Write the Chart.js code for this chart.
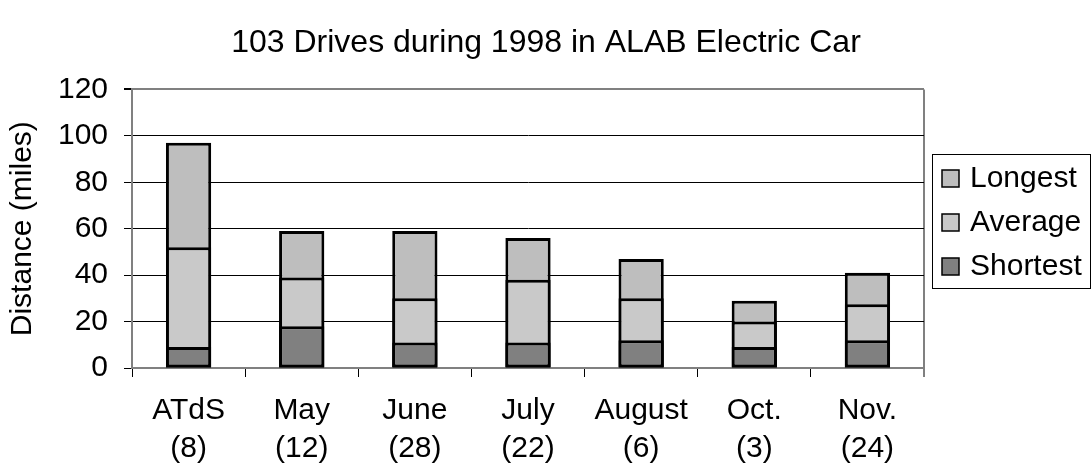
<!DOCTYPE html>
<html lang="en">
<head>
  <meta charset="UTF-8">
  <meta name="viewport" content="width=device-width, initial-scale=1.0">
  <title>103 Drives during 1998 in ALAB Electric Car</title>
  <script src="https://cdn.jsdelivr.net/npm/chart.js"></script>
  <style>
    html, body { margin: 0; padding: 0; background: #fff; }
    #drivesChart { display: block; }
  </style>
</head>
<body>
  <canvas id="drivesChart" width="1092" height="470"></canvas>
  <script>
    // months (number of drives in brackets)
    const months = [
      ["ATdS", "(8)"],
      ["May", "(12)"],
      ["June", "(28)"],
      ["July", "(22)"],
      ["August", "(6)"],
      ["Oct.", "(3)"],
      ["Nov.", "(24)"]
    ];

    // miles per drive
    const longest  = [97, 59, 59, 56, 47, 29, 41];
    const average  = [52, 39, 30, 38, 30, 20, 27.5];
    const shortest = [9, 18, 11, 11, 12, 9, 12];

    const yMin = 0;
    const yMax = 120;
    const yStep = 20;

    const fontFamily = "'Liberation Sans', Arial, Helvetica, sans-serif";
    Chart.defaults.font.family = fontFamily;
    Chart.defaults.color = "#000";

    // Excel style legend with a frame round it, right of the plot
    const boxLegend = {
      id: "boxLegend",
      afterDraw(chart) {
        const ctx = chart.ctx;
        const left = chart.chartArea.right + 8;
        const top = 154;
        const rowHeight = 44;

        ctx.save();
        ctx.strokeStyle = "#000";
        ctx.lineWidth = 1;
        ctx.strokeRect(left + 0.5, top + 0.5, 158, 134);

        ctx.font = "30px " + fontFamily;
        ctx.textBaseline = "middle";
        ctx.textAlign = "left";
        chart.data.datasets.forEach((ds, i) => {
          const cy = top + 24 + i * rowHeight;
          ctx.fillStyle = ds.backgroundColor;
          ctx.fillRect(left + 10, cy - 8, 17, 17);
          ctx.lineWidth = 1.5;
          ctx.strokeRect(left + 10, cy - 8, 17, 17);
          ctx.fillStyle = "#000";
          ctx.fillText(ds.label, left + 38, cy + 1);
        });
        ctx.restore();
      }
    };

    function barSet(label, data, color, order) {
      return {
        label: label,
        data: data,
        backgroundColor: color,
        borderColor: "#000",
        borderWidth: 3,
        borderSkipped: false,
        barPercentage: 0.4,
        categoryPercentage: 1.0,
        order: order
      };
    }

    new Chart(document.getElementById("drivesChart"), {
      type: "bar",
      data: {
        labels: months,
        datasets: [
          barSet("Longest", longest, "#bebebe", 3),
          barSet("Average", average, "#c9c9c9", 2),
          barSet("Shortest", shortest, "#808080", 1)
        ]
      },
      plugins: [boxLegend],
      options: {
        responsive: false,
        animation: false,
        devicePixelRatio: 1,
        plugins: {
          legend: { display: false },
          tooltip: { enabled: false },
          title: {
            display: true,
            text: "103 Drives during 1998 in ALAB Electric Car",
            color: "#000",
            font: { size: 32, weight: "normal" },
            padding: { top: 24, bottom: 27 }
          }
        },
        scales: {
          x: {
            stacked: true,
            grid: {
              offset: true,
              drawOnChartArea: true,
              color: ctx => ctx.type === "tick" ? "rgba(0,0,0,0)" : "#808080",
              lineWidth: ctx => ctx.type === "tick" ? 1 : 2,
              tickColor: "#000",
              tickLength: 9,
              tickWidth: 1
            },
            border: { display: true, color: "#808080", width: 2 },
            ticks: {
              color: "#000",
              font: { size: 30, lineHeight: 1.25 },
              padding: 15,
              maxRotation: 0,
              autoSkip: false
            },
            afterFit: scale => { scale.height = 102; }
          },
          y: {
            stacked: false,
            min: yMin,
            max: yMax,
            grid: {
              color: ctx => (ctx.tick && ctx.tick.value === yMax) ? "#808080" : "#000",
              lineWidth: ctx => (ctx.tick && ctx.tick.value === yMax) ? 2 : 1,
              tickColor: "#000",
              tickLength: 8
            },
            border: { display: true, color: "#808080", width: 2 },
            ticks: {
              stepSize: yStep,
              color: "#000",
              font: { size: 30 },
              padding: 16
            },
            title: {
              display: true,
              text: "Distance (miles)",
              color: "#000",
              font: { size: 30 },
              padding: { top: 5, bottom: 0 }
            },
            afterFit: scale => { scale.width = 132; }
          },
          // empty axis that only keeps room for the legend box
          legendRoom: {
            type: "linear",
            position: "right",
            display: true,
            grid: { display: false },
            border: { display: false },
            ticks: { display: false },
            afterFit: scale => { scale.width = 168; }
          }
        }
      }
    });
  </script>
</body>
</html>
